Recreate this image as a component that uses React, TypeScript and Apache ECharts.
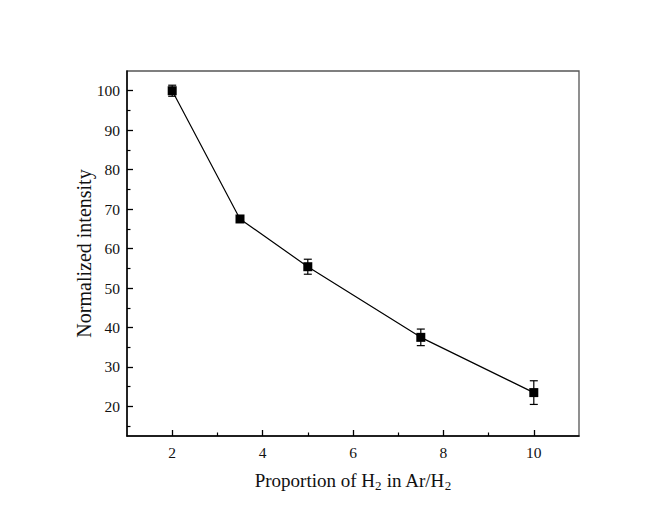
import React, { useEffect, useRef } from "react";
import * as echarts from "echarts";

const xValues = [2, 3.5, 5, 7.5, 10];
const yValues = [100, 67.5, 55.4, 37.5, 23.5];
const yErrors = [1.4, 0.6, 1.9, 2.1, 3.0];
const xMajorTicks = [2, 4, 6, 8, 10];
const xMinorTicks = [3, 5, 7, 9];
const yMajorTicks = [20, 30, 40, 50, 60, 70, 80, 90, 100];
const yMinorTicks = [15, 25, 35, 45, 55, 65, 75, 85, 95];

const FONT = "'Liberation Serif', 'Times New Roman', serif";
const TXT = "#111";

export default function App() {
  const ref = useRef<HTMLDivElement>(null);
  useEffect(() => {
    if (!ref.current) return;
    const chart = echarts.init(ref.current, undefined, { renderer: "svg" });
    const xBase = { type: "value", min: 1, max: 11, position: "bottom", splitLine: { show: false } };
    const yBase = { type: "value", min: 12.5, max: 105, position: "left", splitLine: { show: false } };
    chart.setOption({
      animation: false,
      backgroundColor: "#ffffff",
      grid: { left: 127, top: 71, right: 79, bottom: 78, show: true, borderColor: "#555", borderWidth: 1.3, backgroundColor: "transparent" },
      xAxis: [
        {
          ...xBase,
          axisLine: { show: true, onZero: false, lineStyle: { color: "#000", width: 1.5 } },
          axisTick: { show: true, inside: true, length: 6, customValues: xMajorTicks, lineStyle: { color: "#000", width: 1.3 } },
          axisLabel: { customValues: xMajorTicks, fontFamily: FONT, fontSize: 15.5, color: TXT, margin: 8 },
          name: "{a|Proportion of H}{s|2}{a| in Ar/H}{s|2}",
          nameLocation: "middle",
          nameGap: 32,
          nameMoveOverlap: false,
          nameTextStyle: {
            rich: {
              a: { fontFamily: FONT, fontSize: 19, color: TXT, lineHeight: 24 },
              s: { fontFamily: FONT, fontSize: 13, color: TXT, lineHeight: 13, verticalAlign: "bottom" },
            },
          },
        },
        {
          ...xBase,
          axisLine: { show: false, onZero: false },
          axisTick: { show: true, inside: true, length: 3.5, customValues: xMinorTicks, lineStyle: { color: "#000", width: 1.2 } },
          axisLabel: { show: false },
        },
      ],
      yAxis: [
        {
          ...yBase,
          axisLine: { show: true, onZero: false, lineStyle: { color: "#000", width: 1.5 } },
          axisTick: { show: true, inside: true, length: 6, customValues: yMajorTicks, lineStyle: { color: "#000", width: 1.3 } },
          axisLabel: { customValues: yMajorTicks, fontFamily: FONT, fontSize: 15.5, color: TXT, margin: 7 },
          name: "Normalized intensity",
          nameLocation: "middle",
          nameGap: 33,
          nameMoveOverlap: false,
          nameTextStyle: { fontFamily: FONT, fontSize: 20, color: TXT },
        },
        {
          ...yBase,
          axisLine: { show: false, onZero: false },
          axisTick: { show: true, inside: true, length: 3.5, customValues: yMinorTicks, lineStyle: { color: "#000", width: 1.2 } },
          axisLabel: { show: false },
        },
      ],
      series: [
        {
          type: "custom",
          xAxisIndex: 0,
          yAxisIndex: 0,
          data: xValues.map((x, i) => [x, yValues[i] - yErrors[i], yValues[i] + yErrors[i]]),
          encode: { x: 0, y: [1, 2] },
          z: 2,
          renderItem: (params: any, api: any) => {
            const lo = api.coord([api.value(0), api.value(1)]);
            const hi = api.coord([api.value(0), api.value(2)]);
            const w = 4;
            const style = { stroke: "#000", lineWidth: 1.2 };
            return {
              type: "group",
              children: [
                { type: "line", shape: { x1: lo[0], y1: lo[1], x2: hi[0], y2: hi[1] }, style },
                { type: "line", shape: { x1: lo[0] - w, y1: lo[1], x2: lo[0] + w, y2: lo[1] }, style },
                { type: "line", shape: { x1: hi[0] - w, y1: hi[1], x2: hi[0] + w, y2: hi[1] }, style },
              ],
            };
          },
        },
        {
          type: "line",
          xAxisIndex: 0,
          yAxisIndex: 0,
          z: 3,
          data: xValues.map((x, i) => [x, yValues[i]]),
          symbol: "rect",
          symbolSize: 9,
          itemStyle: { color: "#000" },
          lineStyle: { color: "#000", width: 1.2 },
        },
      ],
    });
    return () => chart.dispose();
  }, []);
  return <div ref={ref} style={{ position: "fixed", left: 0, top: 0, width: 658, height: 514 }} />;
}
